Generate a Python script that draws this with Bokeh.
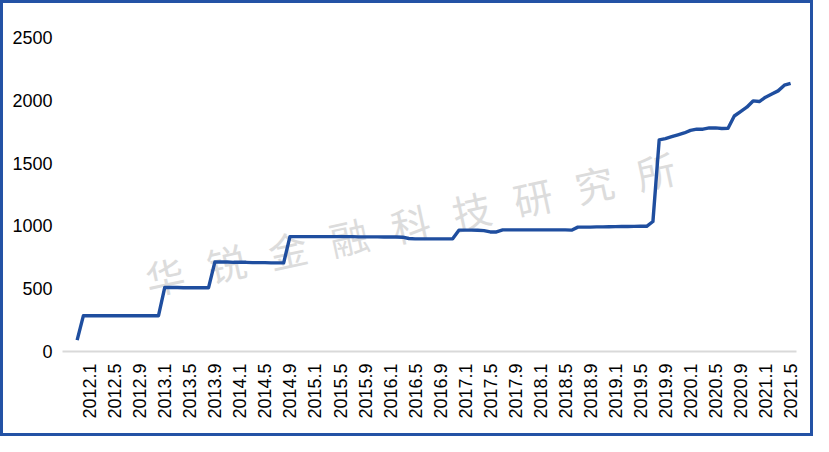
import math
from bokeh.plotting import figure
from bokeh.models import Range1d, FixedTicker, ColumnDataSource
from bokeh.core.properties import value
from bokeh.embed import file_html
from bokeh.resources import INLINE

# ---- data (monthly, starting 2011.11) ----
start_year, start_month = 2011, 11
counts = [
    90,
    285, 285, 285, 285, 285, 285, 285, 285, 285, 285, 285, 285, 285,
    510, 510, 510, 508, 508, 508, 508, 508,
    712, 712, 712, 710, 710, 710, 708, 708, 708, 706, 706, 706,
    915, 915, 915, 915, 915, 915, 915, 915, 915, 915, 915, 913, 913, 913, 913, 912, 912, 912, 910,
    900, 897, 897, 897, 897, 897, 897, 897,
    966, 966, 966, 965, 962,
    952, 952,
    968, 968, 968, 968, 968, 968, 968, 968, 968, 968, 968, 966,
    990, 990, 990, 992, 992, 993, 994, 995, 995, 996, 997, 997,
    1035,
    1685, 1695, 1710, 1725, 1740, 1760, 1770, 1770, 1780, 1780, 1775, 1778,
    1875, 1910, 1945, 1995, 1990, 2025, 2050, 2075, 2120, 2135,
]

tick_labels = ["2012.1", "2012.5", "2012.9", "2013.1", "2013.5", "2013.9",
               "2014.1", "2014.5", "2014.9", "2015.1", "2015.5", "2015.9",
               "2016.1", "2016.5", "2016.9", "2017.1", "2017.5", "2017.9",
               "2018.1", "2018.5", "2018.9", "2019.1", "2019.5", "2019.9",
               "2020.1", "2020.5", "2020.9", "2021.1", "2021.5"]
y_ticks = [0, 500, 1000, 1500, 2000, 2500]
watermark = "华锐金融科技研究所"


def month_index(y, m):
    return (y - 2012) * 12 + (m - 1)


x0 = month_index(start_year, start_month)
xs = [x0 + i for i in range(len(counts))]

tick_pos = []
for lab in tick_labels:
    yy, mm = lab.split(".")
    tick_pos.append(month_index(int(yy), int(mm)))

p = figure(width=813, height=436, output_backend="svg", toolbar_location=None,
           x_range=Range1d(-4.34, 112.94), y_range=Range1d(0, 2500),
           min_border_left=59, min_border_right=20, min_border_top=34,
           min_border_bottom=88)
p.styles = {"border": "3px solid #2352A5"}
p.xgrid.visible = False
p.ygrid.visible = False
p.outline_line_color = None
p.background_fill_color = "white"
p.border_fill_color = "white"

FONT = "Liberation Sans"

p.yaxis.ticker = FixedTicker(ticks=y_ticks)
p.yaxis.axis_line_color = None
p.yaxis.major_tick_line_color = None
p.yaxis.minor_tick_line_color = None
p.yaxis.major_tick_out = 0
p.yaxis.major_tick_in = 0
p.yaxis.major_label_standoff = 10
p.yaxis.major_label_text_font = FONT
p.yaxis.major_label_text_font_size = "18px"
p.yaxis.major_label_text_color = "#000000"

p.xaxis.ticker = FixedTicker(ticks=tick_pos)
p.xaxis.major_label_overrides = {pos: lab for pos, lab in zip(tick_pos, tick_labels)}
p.xaxis.major_label_orientation = math.pi / 2
p.xaxis.axis_line_color = "#D9D9D9"
p.xaxis.axis_line_width = 2
p.xaxis.major_tick_line_color = None
p.xaxis.minor_tick_line_color = None
p.xaxis.major_tick_out = 0
p.xaxis.major_tick_in = 0
p.xaxis.major_label_standoff = 12
p.xaxis.major_label_text_font = FONT
p.xaxis.major_label_text_font_size = "18px"
p.xaxis.major_label_text_color = "#000000"

# watermark (decoration), laid along a tilted line
chars = list(watermark)
n = len(chars)
wx = [12.0 + k * (90.4 - 12.0) / (n - 1) for k in range(n)]
wy = [606 + k * (1444 - 606) / (n - 1) for k in range(n)]
p.text(x=wx, y=wy, text=chars, angle=12.2, angle_units="deg",
       text_font=value("Noto Sans CJK SC"), text_font_size="39px",
       text_color="#DCDCDC", text_align="center", text_baseline="middle")

src = ColumnDataSource(dict(x=xs, y=counts))
p.line("x", "y", source=src, line_color="#1F4E9F", line_width=3.4,
       line_join="round")

open("out.html", "w").write(file_html(p, INLINE))
